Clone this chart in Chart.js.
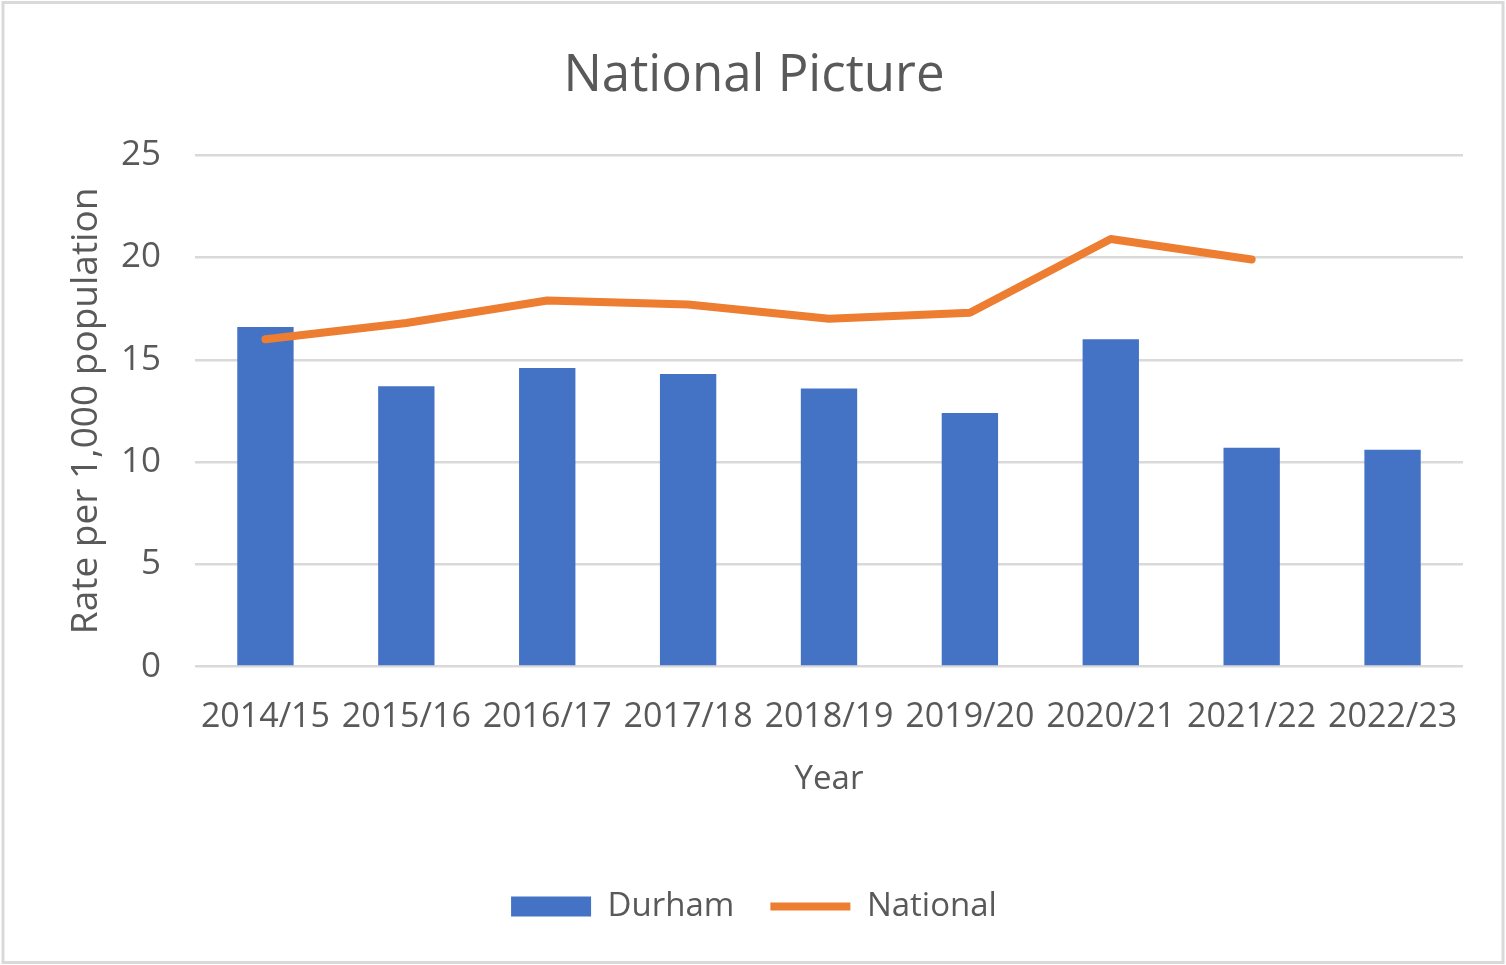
<!DOCTYPE html>
<html lang="en">
<head>
    <meta charset="UTF-8">
    <title>National Picture</title>
    <script src="https://cdn.jsdelivr.net/npm/chart.js"></script>
    <style>
        html, body { margin: 0; padding: 0; background: #fff; }
        #wrap { width: 1506px; height: 965px; }
    </style>
</head>
<body>
    <div id="wrap"><canvas id="chart"></canvas></div>

    <script>
        const years = ['2014/15', '2015/16', '2016/17', '2017/18', '2018/19', '2019/20', '2020/21', '2021/22', '2022/23'];
        const durham = [16.6, 13.7, 14.6, 14.3, 13.6, 12.4, 16.0, 10.7, 10.6];
        const national = [16.0, 16.8, 17.9, 17.7, 17.0, 17.3, 20.9, 19.9, null];
        const yTicks = [0, 5, 10, 15, 20, 25];

        const textColor = '#595959';
        const gridColor = '#d9d9d9';
        const fontFamily = '"Open Sans", "Noto Sans", sans-serif';

        // white background and the thin grey frame round the chart
        const frame = {
            id: 'frame',
            beforeDraw(chart) {
                const ctx = chart.ctx;
                ctx.save();
                ctx.fillStyle = '#fff';
                ctx.fillRect(0, 0, chart.width, chart.height);
                ctx.strokeStyle = gridColor;
                ctx.lineWidth = 3;
                ctx.strokeRect(3, 2.5, chart.width - 6, chart.height - 5);
                ctx.restore();
            }
        };

        Chart.defaults.font.family = fontFamily;
        Chart.defaults.color = textColor;

        new Chart(document.getElementById('chart'), {
            type: 'bar',
            data: {
                labels: years,
                datasets: [
                    {
                        type: 'line',
                        label: 'National',
                        data: national,
                        borderColor: '#ED7D31',
                        backgroundColor: '#ED7D31',
                        borderWidth: 8,
                        borderCapStyle: 'round',
                        borderJoinStyle: 'round',
                        pointRadius: 0,
                        pointStyle: 'line',
                        tension: 0,
                        spanGaps: false,
                        order: 0
                    },
                    {
                        label: 'Durham',
                        data: durham,
                        backgroundColor: '#4472C4',
                        borderWidth: 0,
                        pointStyle: 'rect',
                        categoryPercentage: 1,
                        barPercentage: 0.4,
                        order: 1
                    }
                ]
            },
            options: {
                responsive: true,
                maintainAspectRatio: false,
                animation: false,
                layout: { padding: { left: 45, right: 43, top: 0, bottom: 32 } },
                plugins: {
                    title: {
                        display: true,
                        text: 'National Picture',
                        color: textColor,
                        font: { size: 51, weight: 'normal' },
                        padding: { top: 46, bottom: 48 }
                    },
                    legend: {
                        position: 'bottom',
                        reverse: true,
                        labels: {
                            usePointStyle: true,
                            pointStyleWidth: 80,
                            boxHeight: 20,
                            color: textColor,
                            font: { size: 33 },
                            padding: 36
                        }
                    },
                    tooltip: { enabled: false }
                },
                scales: {
                    x: {
                        grid: { display: false, drawTicks: false },
                        border: { display: false },
                        ticks: { color: textColor, font: { size: 34 }, padding: 30, maxRotation: 0, autoSkip: false },
                        title: {
                            display: true,
                            text: 'Year',
                            color: textColor,
                            font: { size: 33 },
                            padding: { top: -8, bottom: 55 }
                        }
                    },
                    y: {
                        min: 0,
                        max: 25,
                        afterBuildTicks(scale) {
                            scale.ticks = yTicks.map(v => ({ value: v }));
                        },
                        afterFit(scale) { scale.width = 150; },
                        grid: { color: gridColor, lineWidth: 2.5, drawTicks: false },
                        border: { display: false },
                        ticks: { color: textColor, font: { size: 35 }, padding: 34 },
                        title: {
                            display: true,
                            text: 'Rate per 1,000 population',
                            color: textColor,
                            font: { size: 37 },
                            padding: { top: 19, bottom: 10 }
                        }
                    }
                }
            },
            plugins: [frame]
        });
    </script>
</body>
</html>
